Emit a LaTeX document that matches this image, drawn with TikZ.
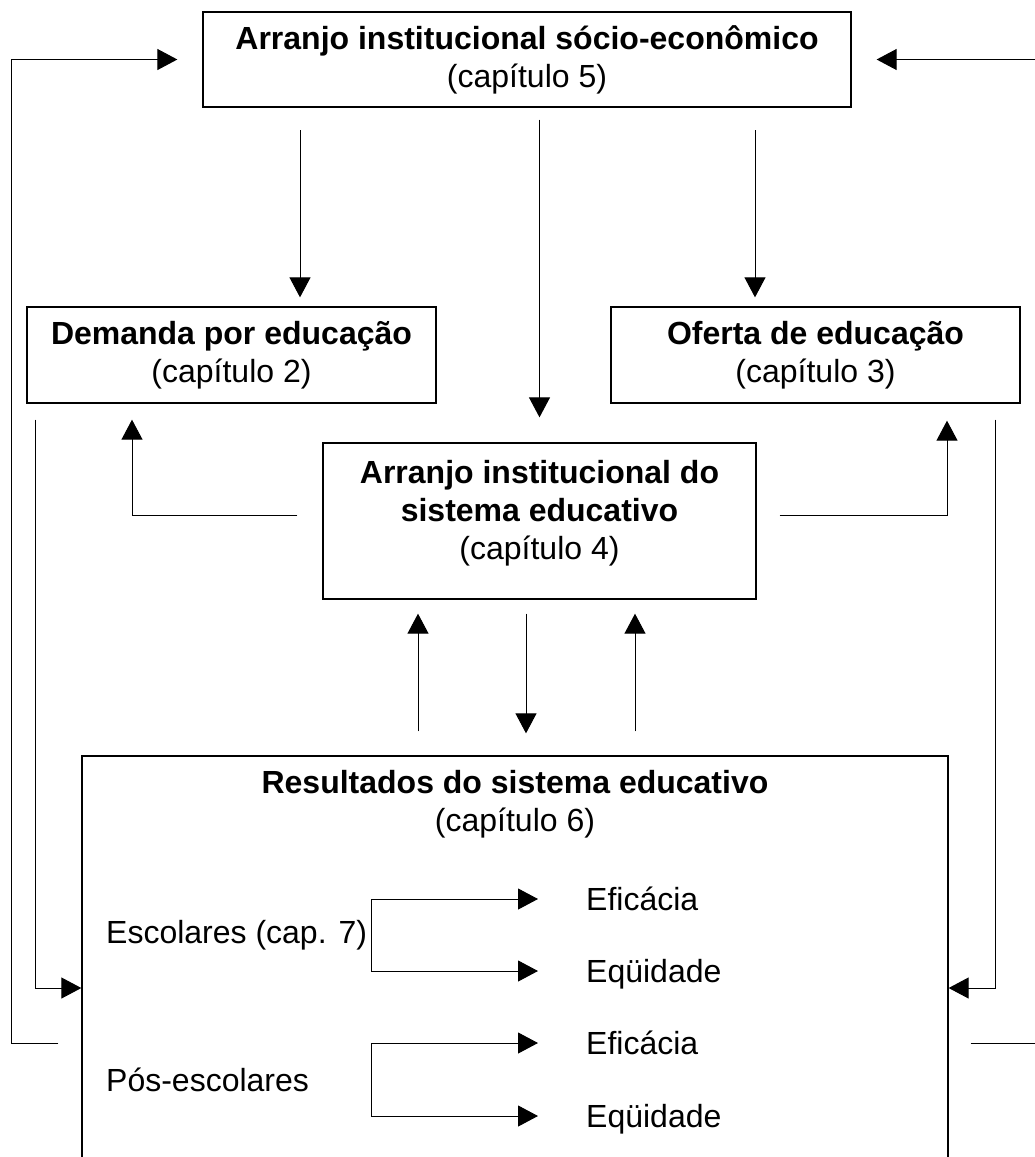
\documentclass[tikz,border=0pt]{standalone}
\usepackage{fontspec}
\setmainfont{Liberation Sans}
\usetikzlibrary{arrows.meta}
\tikzset{
  box/.style={draw, line width=1.3pt, inner sep=0pt, align=center, font=\fontsize{32}{38}\selectfont},
  boxtext/.style={inner sep=0pt, align=center, anchor=north, font=\fontsize{32}{38}\selectfont},
  item/.style={inner sep=0pt, anchor=west, text height=23pt, text depth=0pt, font=\fontsize{32}{38}\selectfont},
  flow/.style={line width=1pt, -{Triangle[length=20pt,width=21pt]}},
}
\begin{document}
\begin{tikzpicture}[x=1pt,y=1pt,yscale=-1]
\useasboundingbox (0,0) rectangle (1035,1157);
%Boxes
\node[box, minimum width=648pt, minimum height=95pt] (soc) at (527,59.5) {\textbf{Arranjo institucional sócio-econômico}\\(capítulo 5)};
\node[box, minimum width=409pt, minimum height=96pt] (dem) at (231.5,355) {\textbf{Demanda por educação}\\(capítulo 2)};
\node[box, minimum width=409pt, minimum height=96pt] (ofe) at (815.5,355) {\textbf{Oferta de educação}\\(capítulo 3)};
\node[box, minimum width=433pt, minimum height=156pt] (sis) at (539.5,521) {};
\node[box, minimum width=866pt, minimum height=412pt] (res) at (515,962) {};
% Text Node
\node[boxtext] (sistxt) at (539.5,460) {\textbf{Arranjo institucional do}\\\textbf{sistema educativo}\\(capítulo 4)};
% Text Node
\node[boxtext] (restxt) at (515,770) {\textbf{Resultados do sistema educativo}\\(capítulo 6)};
\node[item] (esc) at (106,932) {Escolares (cap. 7)};
\node[item] (pos) at (106,1080) {Pós-escolares};
\node[item] (ef1) at (586,899) {Eficácia};
\node[item] (eq1) at (586,971) {Eqüidade};
\node[item] (ef2) at (586,1043) {Eficácia};
\node[item] (eq2) at (586,1116) {Eqüidade};

%Free ends
\coordinate (d1) at (300,130);
\coordinate (o1) at (755,130);
\coordinate (ll) at (11,1043);
\coordinate (rl) at (1038,1043);
\coordinate (dl) at (35,988);
\coordinate (dr) at (995,988);
\coordinate (sl) at (132,515);
\coordinate (sr) at (947,515);
\coordinate (brk) at (371,935);

%Straight Lines from the top box
\draw[flow, shorten >=9pt] (d1) -- (d1 |- dem.north);
\draw[flow, shorten >=9pt] (o1) -- (o1 |- ofe.north);
\draw[flow, shorten <=12pt, shorten >=25pt] (sis.north |- soc.south) -- (sis.north);
%Feedback loops
\draw[flow, shorten <=23pt, shorten >=25pt] (res.west |- ll) -- (ll) |- (soc.west);
\draw[flow, shorten <=22pt, shorten >=25pt] (res.east |- rl) -- (rl) |- (soc.east);
%Demand and supply into results
\draw[flow, shorten <=16pt] (dem.south -| dl) |- (res.west |- dl);
\draw[flow, shorten <=16pt] (ofe.south -| dr) |- (res.east |- dr);
%System box to demand and supply
\draw[flow, shorten <=25pt, shorten >=16pt] (sis.west |- sl) -| (dem.south -| sl);
\draw[flow, shorten <=23pt, shorten >=17pt] (sis.east |- sr) -| (ofe.south -| sr);
%System box and results
\foreach \x in {418,635}
  \draw[flow, shorten <=24pt, shorten >=14pt] (res.north -| \x,0) -- (sis.south -| \x,0);
\draw[flow, shorten <=14pt, shorten >=22pt] (sis.south -| 526,0) -- (res.north -| 526,0);
%Brackets
\draw[flow, shorten >=48pt] (brk |- eq1.west) |- (ef1.west);
\draw[flow, shorten >=48pt] (brk |- ef1.west) |- (eq1.west);
\draw[flow, shorten >=48pt] (brk |- eq2.west) |- (ef2.west);
\draw[flow, shorten >=48pt] (brk |- ef2.west) |- (eq2.west);

\end{tikzpicture}
\end{document}
